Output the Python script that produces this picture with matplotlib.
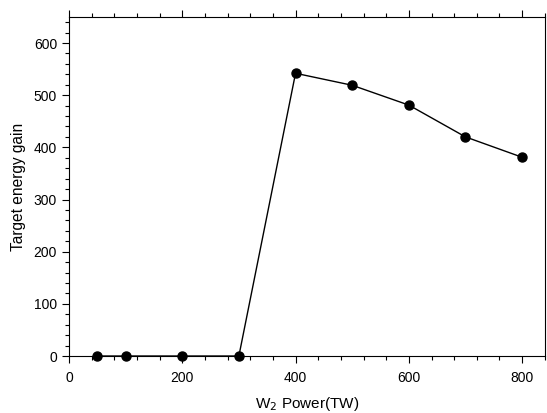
import matplotlib.pyplot as plt
from matplotlib.ticker import MultipleLocator

plt.rcParams['font.family'] = ['Liberation Sans', 'DejaVu Sans']

# W2 power (TW) and target energy gain
power = [50, 100, 200, 300, 400, 500, 600, 700, 800]
gain = [0, 0, 0, 0, 542, 519, 481, 420, 381]

fig = plt.figure(figsize=(5.47, 4.13), dpi=100)
ax = fig.add_axes([0.126, 0.138, 0.87, 0.821])

ax.plot(power, gain, '-o', color='black', lw=1.0, markersize=6.5, clip_on=False, zorder=3)

ax.set_xlim(0, 840)
ax.set_ylim(0, 650)
ax.xaxis.set_major_locator(MultipleLocator(200))
ax.xaxis.set_minor_locator(MultipleLocator(40))
ax.yaxis.set_major_locator(MultipleLocator(100))
ax.yaxis.set_minor_locator(MultipleLocator(20))

ax.tick_params(which='both', direction='out', top=True, right=False, labelsize=10, width=0.8)
ax.tick_params(which='major', length=5)
ax.tick_params(which='minor', length=3)
ax.tick_params(axis='x', which='major', pad=5.5)

ax.set_xlabel(r'W$_2$ Power(TW)', fontsize=11, labelpad=7.5)
ax.set_ylabel('Target energy gain', fontsize=11.2, labelpad=5.5)

fig.savefig('out.png', dpi=100)
